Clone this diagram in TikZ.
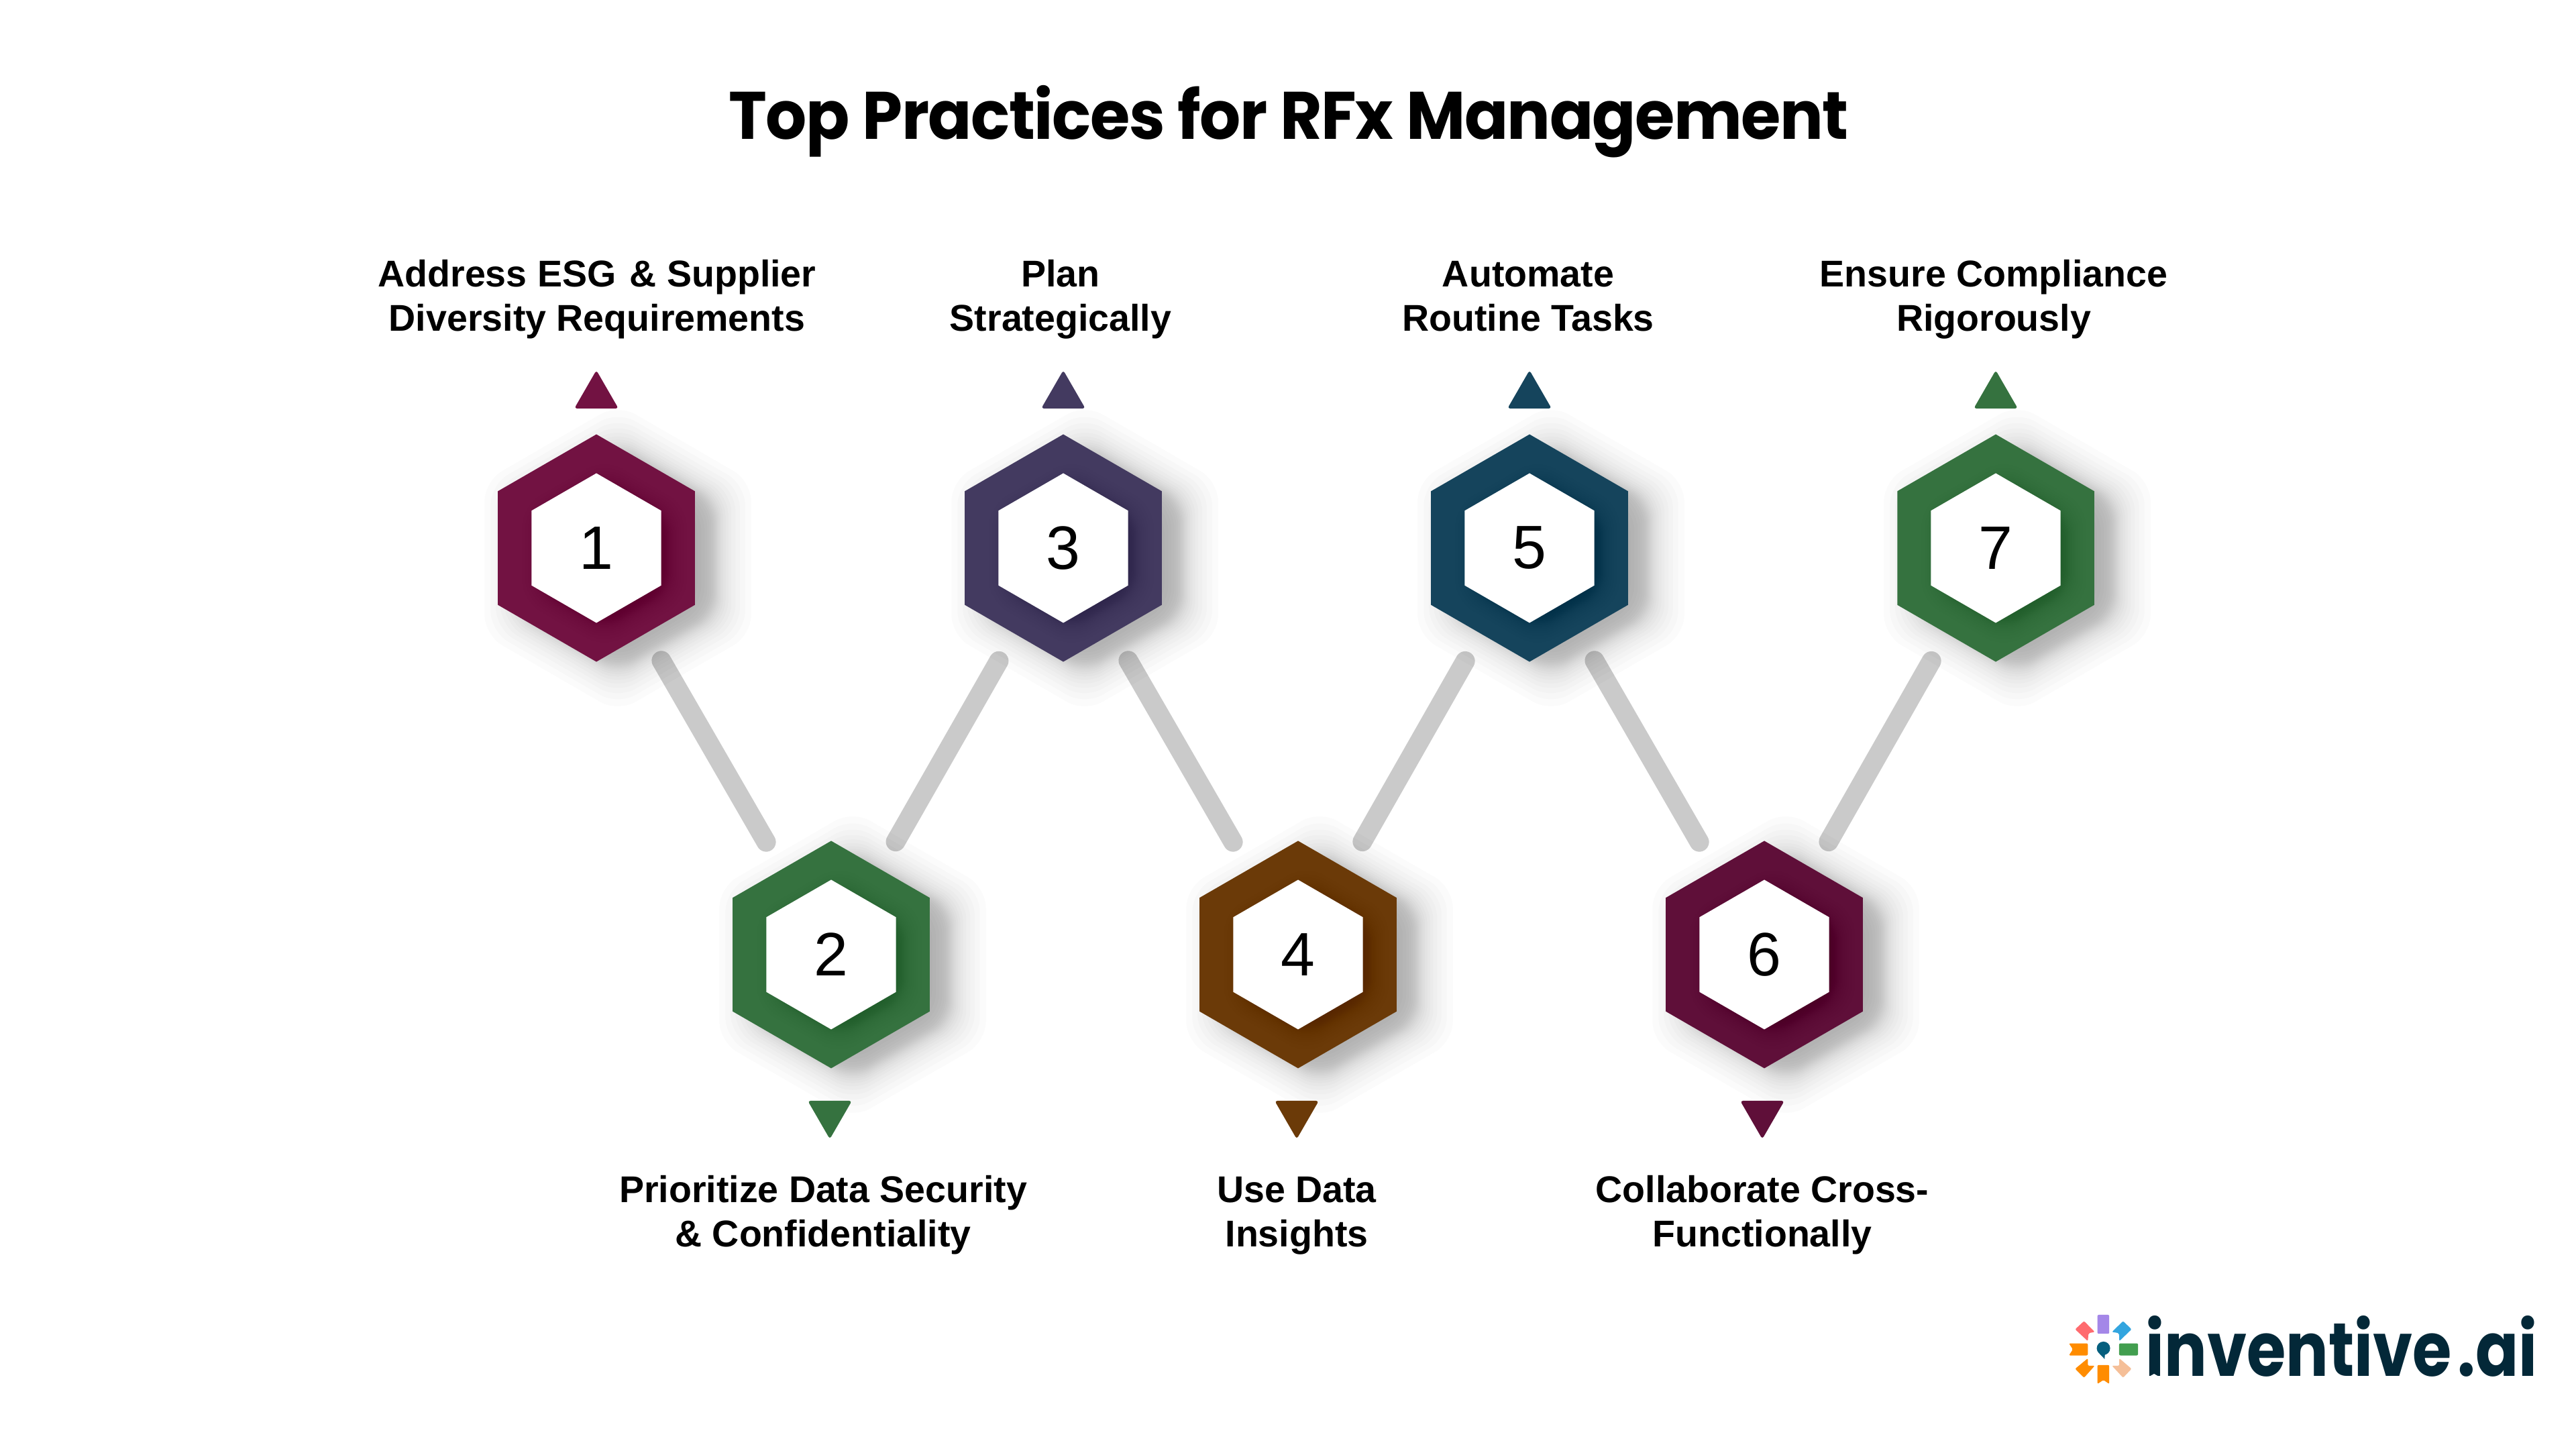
\documentclass[tikz,border=0pt]{standalone}
\usepackage{fontspec}
\setmainfont{Liberation Sans}
\newfontfamily\titlefont{Poppins}[FakeStretch=.96,LetterSpace=-1.5]
\newfontfamily\logofont{Poppins}[FakeStretch=.84]
\usetikzlibrary{shapes.geometric}

\definecolor{ringmaroon}{HTML}{721242}
\definecolor{ringgreen}{HTML}{35723F}
\definecolor{ringplum}{HTML}{433A60}
\definecolor{ringblue}{HTML}{15445C}
\definecolor{ringbrown}{HTML}{6B3A08}
\definecolor{ringwine}{HTML}{5F0F39}
\definecolor{linkgray}{HTML}{CACACA}
\definecolor{logoink}{HTML}{032838}
\definecolor{logopurple}{HTML}{A487E8}
\definecolor{logogreen}{HTML}{429E4F}
\definecolor{logoorange}{HTML}{FF8C00}
\definecolor{logored}{HTML}{FF6B6F}
\definecolor{logoblue}{HTML}{33A5DF}
\definecolor{logopeach}{HTML}{F5BF98}
\definecolor{logoteal}{HTML}{055F7E}

\pgfdeclarelayer{links}
\pgfsetlayers{links,main}

\tikzset{
  hexring/.style={regular polygon,regular polygon sides=6,regular polygon rotate=30,
    minimum size=3.39cm,inner sep=0pt,outer sep=0pt,fill=#1},
  hexcore/.style={regular polygon,regular polygon sides=6,regular polygon rotate=30,
    minimum size=2.23cm,inner sep=0pt,outer sep=0pt,fill=white,
    font=\fontsize{26}{26}\selectfont},
  link/.style={line width=.29cm,linkgray,line cap=round,shorten <=.47cm,shorten >=.47cm},
  mark up/.style={regular polygon,regular polygon sides=3,minimum size=.76cm,
    inner sep=0pt,outer sep=0pt,rounded corners=.04cm,fill=#1},
  mark down/.style={mark up=#1,regular polygon rotate=180},
  steptext/.style={align=center,inner sep=0pt,anchor=base,
    font=\fontsize{15.8}{18.8}\selectfont\bfseries},
}

% blurred hexagon: centre, radius, reach, opacity of a layer
\newcommand{\softhex}[4]{
  \foreach \k in {0,...,23}{
    \pgfmathsetmacro{\u}{1-2*\k/23}
    \pgfmathsetmacro{\r}{#2+#3*(.42*\u+.58*\u*\u*\u)}
    \fill[black,fill opacity=#4,shift={(#1)},rounded corners=.3cm]
      (90:\r)--(30:\r)--(-30:\r)--(-90:\r)--(-150:\r)--(150:\r)--cycle;
  }
}
% hexagon with its shadows: name, x, y, colour, number
\newcommand{\hexstep}[5]{
  \softhex{#2+.32,#3-.15}{1.695}{.6}{.016}
  \node[hexring=#4] (#1) at (#2,#3) {};
  \begin{scope}
    \clip (#1.corner 1)--(#1.corner 2)--(#1.corner 3)--(#1.corner 4)--(#1.corner 5)--(#1.corner 6)--cycle;
    \softhex{#2+.12,#3-.08}{1.115}{.3}{.0065}
  \end{scope}
  \node[hexcore] (#1c) at (#2,#3) {#5};
}

\begin{document}
\begin{tikzpicture}

\useasboundingbox (0,0) rectangle (38.4,21.6);

\node[font=\titlefont\fontsize{28.5}{30}\selectfont\bfseries,anchor=base] (title) at (19.21,19.52) {Top Practices for RFx Management};

\hexstep{h1}{8.89}{13.43}{ringmaroon}{1}
\hexstep{h2}{12.39}{7.37}{ringgreen}{2}
\hexstep{h3}{15.85}{13.43}{ringplum}{3}
\hexstep{h4}{19.35}{7.37}{ringbrown}{4}
\hexstep{h5}{22.80}{13.43}{ringblue}{5}
\hexstep{h6}{26.30}{7.37}{ringwine}{6}
\hexstep{h7}{29.75}{13.43}{ringgreen}{7}

\begin{pgfonlayer}{links}
\fill[white] (0,0) rectangle (38.4,21.6);
\draw[link] (h1)--(h2);
\draw[link] (h2)--(h3);
\draw[link] (h3)--(h4);
\draw[link] (h4)--(h5);
\draw[link] (h5)--(h6);
\draw[link] (h6)--(h7);
\end{pgfonlayer}

\node[mark up=ringmaroon] (m1) at (8.89,15.70) {};
\node[mark down=ringgreen] (m2) at (12.37,5.00) {};
\node[mark up=ringplum] (m3) at (15.85,15.70) {};
\node[mark down=ringbrown] (m4) at (19.33,5.00) {};
\node[mark up=ringblue] (m5) at (22.80,15.70) {};
\node[mark down=ringwine] (m6) at (26.27,5.00) {};
\node[mark up=ringgreen] (m7) at (29.75,15.70) {};

\node[steptext] (t1) at (8.90,16.66) {Address ESG\ \kern-3pt\ \& Supplier\\Diversity Requirements};
\node[steptext] (t2) at (12.27,3.01) {Prioritize Data Security\\\& Confidentiality};
\node[steptext] (t3) at (15.81,16.66) {Plan\\Strategically};
\node[steptext] (t4) at (19.33,3.01) {Use Data\\Insights};
\node[steptext] (t5) at (22.78,16.66) {Automate\\Routine Tasks};
\node[steptext] (t6) at (26.27,3.01) {Collaborate Cross-\\Functionally};
\node[steptext] (t7) at (29.72,16.66) {Ensure Compliance\\Rigorously};

% logo
\begin{scope}[shift={(30.80,2.10)},x=.00333cm,y=-.00333cm,rounded corners=.02cm]
\fill[fill=logopurple] (140,30) rectangle (193,115);
\fill[fill=logogreen] (237,158) rectangle (322,212);
\fill[fill=logoorange] (12,158)--(97,158)--(97,212)--(12,212)--(30,185)--cycle;
\fill[fill=logoorange] (140,255)--(193,255)--(193,340)--(167,322)--(140,340)--cycle;
\fill[fill=logored] (80,58)--(128,107)--(100,112)--(97,148)--(40,95)--cycle;
\fill[fill=logoblue] (255,58)--(205,107)--(237,112)--(238,148)--(293,95)--cycle;
\fill[fill=logoorange] (97,225)--(97,258)--(128,258)--(80,312)--(40,272)--cycle;
\fill[fill=logopeach] (238,225)--(238,258)--(205,258)--(255,312)--(293,272)--cycle;
\fill[fill=logoteal] (167,180) circle[radius=30];
\fill[fill=logoteal,sharp corners] (148,203)--(172,228)--(174,205)--cycle;
\end{scope}
\node[font=\logofont\fontsize{32}{32}\selectfont\bfseries,text=logoink,anchor=base west,inner sep=0pt] (logo) at (31.98,1.08) {inventive\ \kern-.1em .ai};
\fill[white] (32.02,1.07)--(32.11,1.12)--(32.20,1.07)--cycle;

\end{tikzpicture}
\end{document}
